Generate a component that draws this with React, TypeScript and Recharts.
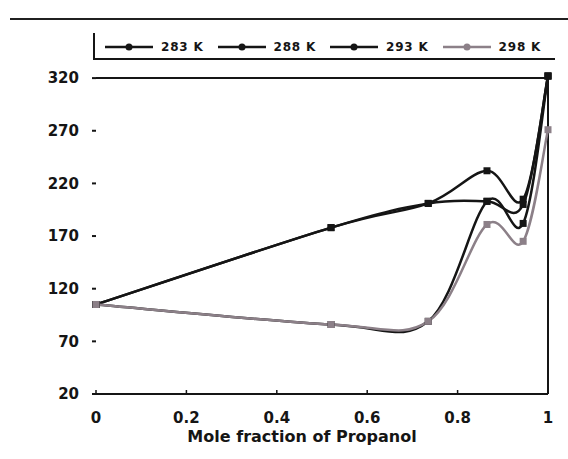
import { LineChart, Line, XAxis, YAxis, ReferenceLine } from 'recharts';

const moleFraction = [0, 0.52, 0.735, 0.865, 0.945, 1];
const k283 = [105, 178, 201, 232, 205, 322];
const k288 = [105, 178, 201, 203, 200, 322];
const k293 = [105, 86, 89, 203, 182, 322];
const k298 = [105, 86, 89, 181, 165, 271];
const seriesNames = ['283 K', '288 K', '293 K', '298 K'];
const xTicks = [0, 0.2, 0.4, 0.6, 0.8, 1];
const yTicks = [20, 70, 120, 170, 220, 270, 320];

const data = moleFraction.map((x, i) => ({
  x,
  k283: k283[i],
  k288: k288[i],
  k293: k293[i],
  k298: k298[i],
}));

const series = [
  { key: 'k283', name: seriesNames[0], color: '#151515' },
  { key: 'k288', name: seriesNames[1], color: '#151515' },
  { key: 'k293', name: seriesNames[2], color: '#151515' },
  { key: 'k298', name: seriesNames[3], color: '#8c8088' },
];

const font = '"DejaVu Sans", Arial, sans-serif';

// Excel-style smoothed line (Catmull-Rom through the points)
const smoothCurve = (context: any) => {
  let pts: [number, number][] = [];
  return {
    areaStart() {},
    areaEnd() {},
    lineStart() {
      pts = [];
    },
    lineEnd() {
      if (!pts.length) return;
      context.moveTo(pts[0][0], pts[0][1]);
      for (let i = 0; i < pts.length - 1; i++) {
        const p0 = pts[Math.max(i - 1, 0)];
        const p1 = pts[i];
        const p2 = pts[i + 1];
        const p3 = pts[Math.min(i + 2, pts.length - 1)];
        context.bezierCurveTo(
          p1[0] + (p2[0] - p0[0]) / 6,
          p1[1] + (p2[1] - p0[1]) / 6,
          p2[0] - (p3[0] - p1[0]) / 6,
          p2[1] - (p3[1] - p1[1]) / 6,
          p2[0],
          p2[1]
        );
      }
    },
    point(x: number, y: number) {
      pts.push([+x, +y]);
    },
  };
};

const squareDot = (color: string) => (props: any) => {
  const { cx, cy, index } = props;
  if (cx == null || cy == null) return <g key={index} />;
  return <rect key={index} x={cx - 3.5} y={cy - 3.5} width={7} height={7} fill={color} />;
};

function ChartLegend() {
  return (
    <div
      style={{
        position: 'absolute',
        left: 93,
        top: 33,
        width: 462,
        height: 27,
        borderLeft: '2px solid #151515',
        borderBottom: '2px solid #151515',
        display: 'flex',
        alignItems: 'center',
        gap: 14,
        paddingLeft: 10,
        paddingTop: 2,
        boxSizing: 'border-box',
        fontFamily: font,
        fontWeight: 'bold',
        fontSize: 12,
        letterSpacing: 0.8,
        color: '#151515',
      }}
    >
      {series.map((s) => (
        <div key={s.key} style={{ display: 'flex', alignItems: 'center' }}>
          <svg width={48} height={8} style={{ marginRight: 8 }}>
            <line x1={0} y1={4} x2={48} y2={4} stroke={s.color} strokeWidth={2.5} />
            <circle cx={24} cy={4} r={3.5} fill={s.color} />
          </svg>
          <span>{s.name}</span>
        </div>
      ))}
    </div>
  );
}

export default function App() {
  return (
    <div style={{ position: 'absolute', left: 0, top: 0, width: 568, height: 459, background: '#fff' }}>
      <div style={{ position: 'absolute', left: 10, top: 18, width: 558, height: 2, background: '#202020' }} />
      <ChartLegend />
      <LineChart
        width={568}
        height={459}
        data={data}
        margin={{ top: 76, right: 20, left: 0, bottom: 8 }}
      >
        <XAxis
          dataKey="x"
          type="number"
          domain={[0, 1]}
          ticks={xTicks}
          tickFormatter={(v) => String(v)}
          height={57}
          axisLine={{ stroke: '#151515', strokeWidth: 2 }}
          tickLine={{ stroke: '#151515', strokeWidth: 1.5 }}
          tickSize={-4}
          tickMargin={22}
          tick={{ fill: '#151515', fontSize: 15, fontWeight: 'bold', fontFamily: font }}
          label={{
            value: 'Mole fraction of Propanol',
            position: 'insideBottom',
            offset: 9,
            dx: -20,
            fill: '#151515',
            fontSize: 16,
            fontWeight: 'bold',
            fontFamily: font,
          }}
        />
        <YAxis
          type="number"
          domain={[20, 320]}
          ticks={yTicks}
          width={96}
          axisLine={false}
          tickLine={{ stroke: '#151515', strokeWidth: 2 }}
          tickSize={4}
          tickMargin={13}
          tick={{ fill: '#151515', fontSize: 15, fontWeight: 'bold', fontFamily: font }}
        />
        <ReferenceLine y={320} stroke="#151515" strokeWidth={2} />
        <ReferenceLine x={1} stroke="#151515" strokeWidth={2} />
        {series.map((s) => (
          <Line
            key={s.key}
            type={smoothCurve as any}
            dataKey={s.key}
            name={s.name}
            stroke={s.color}
            strokeWidth={2.5}
            dot={squareDot(s.color)}
            activeDot={false}
            isAnimationActive={false}
          />
        ))}
      </LineChart>
    </div>
  );
}
